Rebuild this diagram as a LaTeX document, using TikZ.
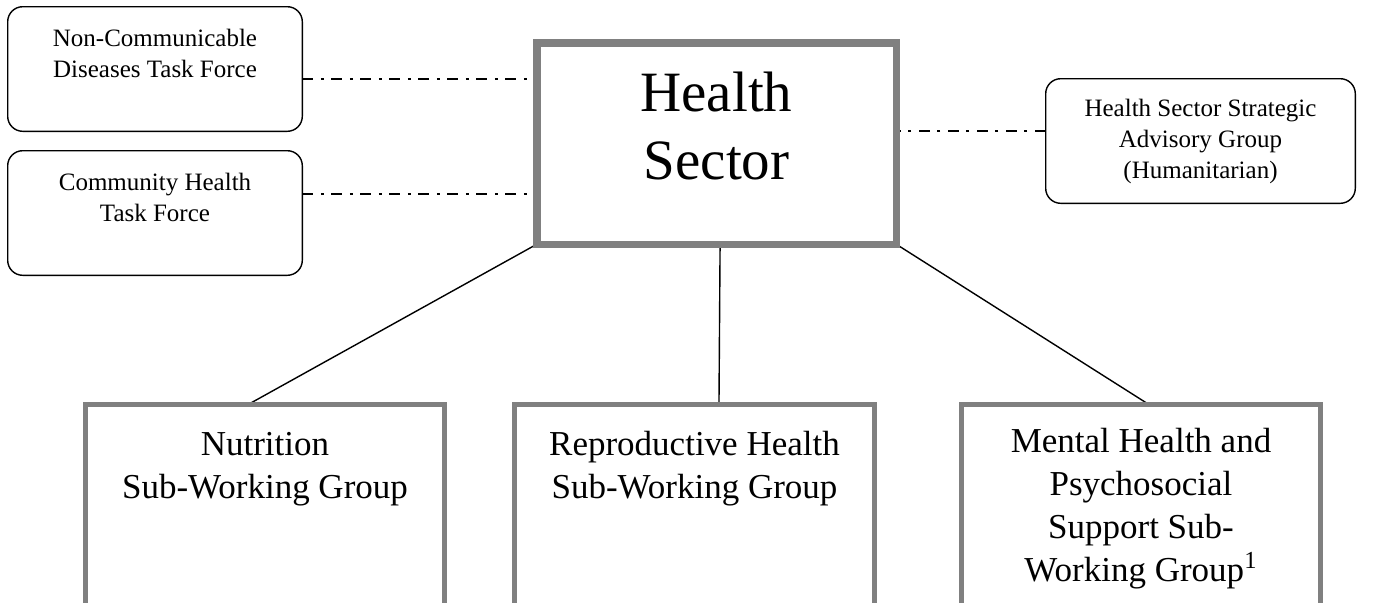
\documentclass[tikz,border=0pt]{standalone}
\usepackage{fontspec}
\setmainfont{Liberation Serif}
\usepackage{xcolor}
\usepackage{tikz}
\usetikzlibrary{calc,backgrounds}
\definecolor{sectorgray}{rgb}{0.5, 0.5, 0.5}
\begin{document}
\begin{tikzpicture}[x=0.5pt,y=0.5pt,
    taskbox/.style={draw,rectangle,rounded corners=7.5pt,line width=0.7pt,fill=white,outer sep=0pt,
        align=center,font=\fontsize{12.5}{15.5}\selectfont,minimum width=147.3pt,minimum height=62.3pt},
    sectorbox/.style={draw=sectorgray,rectangle,line width=3.75pt,fill=white,outer sep=0pt,
        minimum width=179.75pt,minimum height=100.75pt},
    subbox/.style={draw=sectorgray,rectangle,line width=2.5pt,fill=white,outer sep=0pt,
        align=center,font=\fontsize{17.5}{21.5}\selectfont,minimum height=103.75pt},
    dashdot/.style={line width=1pt,dash pattern=on 5.5pt off 3.75pt on 1.5pt off 3.75pt},
    link/.style={line width=0.7pt}]
            \useasboundingbox (0,0) rectangle (1373,602);
            \clip (0,0) rectangle (1373,602);
            \node[taskbox] (ncd) at (155,533) {Non-Communicable\\Diseases Task Force\\~};
            \node[taskbox] (ch) at (155,389) {Community Health\\Task Force\\~};
            \node[taskbox,minimum width=154.8pt] (sag) at (1200.5,461) {Health Sector Strategic\\Advisory Group\\(Humanitarian)};
            \node[sectorbox] (hs) at (716.5,458.5) {};
            \node[align=center,font=\fontsize{28.5}{34}\selectfont] (hslabel) at (716.5,475.5) {Health\\Sector};
            \node[subbox,minimum width=179.5pt] (nut) at (265,93.75) {Nutrition\\Sub-Working Group\\~\\~};
            \node[subbox,minimum width=180pt] (rep) at (694.5,93.75) {Reproductive Health\\Sub-Working Group\\~\\~};
            \node[subbox,minimum width=179.5pt] (mhp) at (1141,93.75) {Mental Health and\\Psychosocial\\Support Sub-\\Working Group\textsuperscript{1}};
            \begin{scope}[on background layer]
            \draw[dashdot] ([yshift=-5pt]ncd.east) -- ([yshift=-5pt]ncd.east -| hs.west);
            \draw[dashdot] ([yshift=9.5pt]ch.east) -- ([yshift=9.5pt]ch.east -| hs.west);
            \draw[dashdot] ([yshift=5pt]sag.west) -- ([yshift=5pt]sag.west -| hs.east);
            \draw[link] (hs.south west) -- ($(nut.north west)!0.453!(nut.north east)$);
            \draw[link] ($(hs.south west)!0.51!(hs.south east)$) -- ($(rep.north west)!0.568!(rep.north east)$);
            \draw[link] (hs.south east) -- ($(mhp.north west)!0.522!(mhp.north east)$);
            \end{scope}
        \end{tikzpicture}
\end{document}
